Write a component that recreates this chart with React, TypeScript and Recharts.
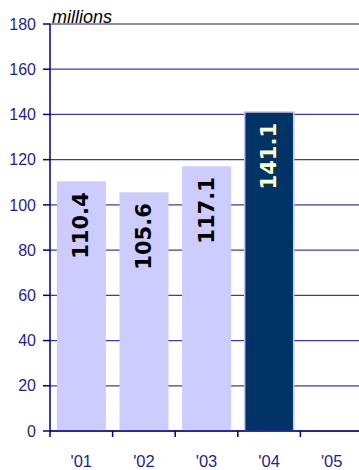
import React from 'react';
import { BarChart, Bar, XAxis, YAxis, CartesianGrid, ReferenceLine, LabelList, Cell } from 'recharts';

const years = ["'01", "'02", "'03", "'04", "'05"];
const revenue: (number | null)[] = [110.4, 105.6, 117.1, 141.1, null];
const yTicks = [0, 20, 40, 60, 80, 100, 120, 140, 160, 180];
const highlightYear = "'04";

const data = years.map((year, i) => ({ year, value: revenue[i] }));

const CHART_W = 363;
const CHART_H = 470;
const Y_AXIS_W = 50;
const BAND = (CHART_W - Y_AXIS_W) / years.length;

const AXIS_BLUE = '#1f1f8f';
const GRID_BLUE = '#3c3ca8';
const FONT = "'Liberation Sans', Arial, sans-serif";

const XTick = (props: any) => {
  const { x, y, payload } = props;
  const left = x - BAND / 2;
  return (
    <g>
      <line x1={left} y1={y} x2={left} y2={y + 6} stroke="#000080" strokeWidth={1.5} />
      <text x={x} y={y + 36} textAnchor="middle" fill={AXIS_BLUE} fontSize={16.5} fontFamily={FONT}>
        {payload.value}
      </text>
    </g>
  );
};

const BarValue = (props: any) => {
  const { x, y, width, value, index } = props;
  if (value == null) return null;
  const cx = x + width / 2;
  const ty = y + 11;
  return (
    <text
      x={cx}
      y={ty}
      transform={`rotate(-90 ${cx} ${ty})`}
      textAnchor="end"
      dominantBaseline="central"
      fill={years[index] === highlightYear ? '#ffffcc' : '#000000'}
      fontSize={21}
      fontWeight="bold"
      fontFamily="'DejaVu Sans', sans-serif"
    >
      {Number(value).toFixed(1)}
    </text>
  );
};

export default function App() {
  return (
    <div style={{ position: 'absolute', left: 0, top: 0, width: 359, height: CHART_H, overflow: 'hidden', background: '#fff' }}>
      <div
        style={{
          position: 'absolute',
          left: 52,
          top: 7,
          fontStyle: 'italic',
          fontSize: 18,
          fontFamily: FONT,
          color: '#000',
          lineHeight: '20px',
        }}
      >
        millions
      </div>
      <BarChart
        width={CHART_W}
        height={CHART_H}
        data={data}
        margin={{ top: 24, right: 0, left: 0, bottom: 0 }}
        barCategoryGap="11%"
      >
        <CartesianGrid vertical={false} stroke={GRID_BLUE} strokeWidth={1.2} />
        <ReferenceLine y={180} stroke="#8a8a8a" strokeWidth={1.5} />
        <XAxis
          dataKey="year"
          height={39}
          interval={0}
          tickLine={false}
          tickSize={0}
          tickMargin={0}
          tick={<XTick />}
          axisLine={{ stroke: '#000080', strokeWidth: 1.5 }}
        />
        <YAxis
          width={Y_AXIS_W}
          domain={[0, 180]}
          ticks={yTicks}
          interval={0}
          tickSize={7}
          tickMargin={7}
          tickLine={{ stroke: '#000080', strokeWidth: 1.5 }}
          axisLine={{ stroke: '#000080', strokeWidth: 1.5 }}
          tick={{ fill: AXIS_BLUE, fontSize: 16, fontFamily: FONT }}
        />
        <Bar dataKey="value" isAnimationActive={false}>
          {data.map((d) => (
            <Cell
              key={d.year}
              fill={d.year === highlightYear ? '#003366' : '#ccccff'}
              stroke={d.year === highlightYear ? '#c4c4f0' : 'none'}
              strokeWidth={1.5}
            />
          ))}
          <LabelList dataKey="value" content={<BarValue />} />
        </Bar>
      </BarChart>
    </div>
  );
}
